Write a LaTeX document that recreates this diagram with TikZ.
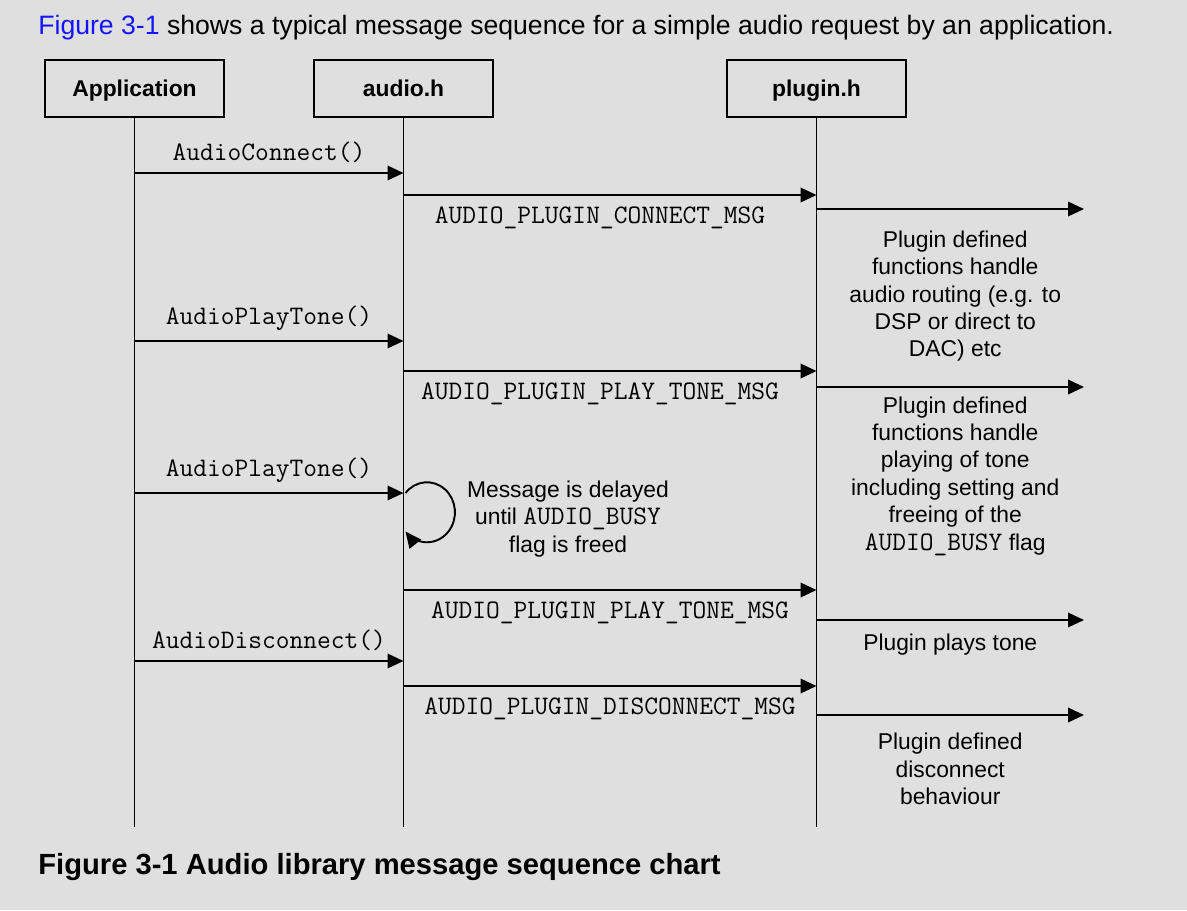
\documentclass[tikz,border=0pt]{standalone}
\usepackage{fontspec}
\setmainfont{Liberation Sans}
\usetikzlibrary{arrows.meta,calc}
\definecolor{bgcol}{RGB}{223,223,223}
\definecolor{linkblue}{RGB}{20,20,255}
\tikzset{
  head/.style={draw, line width=1.1pt, minimum width=3.58cm, minimum height=1.14cm, text height=0.9em, text depth=0.02em, font=\fontsize{13}{15}\selectfont\bfseries},
  life/.style={line width=1.1pt},
  msg/.style={line width=1.1pt, -{Triangle[length=0.32cm,width=0.29cm]}},
  call/.style={midway, above=2pt, font=\fontsize{15.2}{16}\selectfont\ttfamily},
  pmsg/.style={midway, below=3pt, font=\fontsize{15.2}{16}\selectfont\ttfamily},
  note/.style={midway, below=#1, align=center, font=\fontsize{13}{15.6}\selectfont},
  note/.default=4pt,
}
\newcommand{\busy}{{\fontsize{15.2}{15.6}\selectfont\ttfamily AUDIO\_BUSY}}
\begin{document}
\begin{tikzpicture}[x=0.02cm, y=0.02cm]
	\fill[bgcol] (0,0) rectangle (1187,-910);
	\useasboundingbox (0,0) rectangle (1187,-910);
	% intro line and caption
	\node[anchor=base west, inner sep=0, font=\fontsize{15.15}{18}\selectfont] (intro) at (38,-34)
		{\textcolor{linkblue}{Figure 3-1} shows a typical message sequence for a simple audio request by an application.};
	\node[anchor=base west, inner sep=0, font=\fontsize{16.6}{19}\selectfont\bfseries] (cap) at (38,-874)
		{Figure 3-1 Audio library message sequence chart};
	% heads and lifelines
	\node[head] (app) at (134.5,-88.5) {Application};
	\node[head] (aud) at (403.5,-88.5) {audio.h};
	\node[head] (plg) at (816.5,-88.5) {plugin.h};
	\coordinate (bot) at (0,-827);
	\coordinate (far) at (1084,0);
	\foreach \n in {app,aud,plg}
		\draw[life] (\n.south) -- (\n |- bot);
	% rows
	\foreach \r/\y in {m1/173,m2/195,m3/209,m5/341,m6/371,m7/387,m9/493,m11/590,m12/620,m13/661,m14/686,m15/715}
		\coordinate (\r) at (0,-\y);
	% connect
	\draw[msg] (app |- m1) -- (aud |- m1) node[call]{AudioConnect()};
	\draw[msg] (aud |- m2) -- (plg |- m2) node[pmsg, xshift=-0.2cm]{AUDIO\_PLUGIN\_CONNECT\_MSG};
	\draw[msg] (plg |- m3) -- (far |- m3) node[note=8.5pt, xshift=0.1cm]{Plugin defined\\functions handle\\audio routing (e.g. to\\DSP or direct to\\DAC) etc};
	% play tone
	\draw[msg] (app |- m5) -- (aud |- m5) node[call]{AudioPlayTone()};
	\draw[msg] (aud |- m6) -- (plg |- m6) node[pmsg, xshift=-0.2cm]{AUDIO\_PLUGIN\_PLAY\_TONE\_MSG};
	\draw[msg] (plg |- m7) -- (far |- m7) node[note=1.5pt, xshift=0.1cm]{Plugin defined\\functions handle\\playing of tone\\including setting and\\freeing of the\\\busy{} flag};
	% second tone, delayed
	\draw[msg] (app |- m9) -- (aud |- m9) node[call]{AudioPlayTone()};
	\draw[msg] ($(aud |- m9)+(2,0)$) arc[start angle=140, end angle=-140, x radius=28, y radius=30];
	\node[align=center, font=\fontsize{13}{15.6}\selectfont] (delay) at (568,-519)
		{Message is delayed\\until \busy\\flag is freed};
	\draw[msg] (aud |- m11) -- (plg |- m11) node[pmsg]{AUDIO\_PLUGIN\_PLAY\_TONE\_MSG};
	\draw[msg] (plg |- m12) -- (far |- m12) node[note]{Plugin plays tone};
	% disconnect
	\draw[msg] (app |- m13) -- (aud |- m13) node[call]{AudioDisconnect()};
	\draw[msg] (aud |- m14) -- (plg |- m14) node[pmsg]{AUDIO\_PLUGIN\_DISCONNECT\_MSG};
	\draw[msg] (plg |- m15) -- (far |- m15) node[note=6.5pt]{Plugin defined\\disconnect\\behaviour};
\end{tikzpicture}
\end{document}
